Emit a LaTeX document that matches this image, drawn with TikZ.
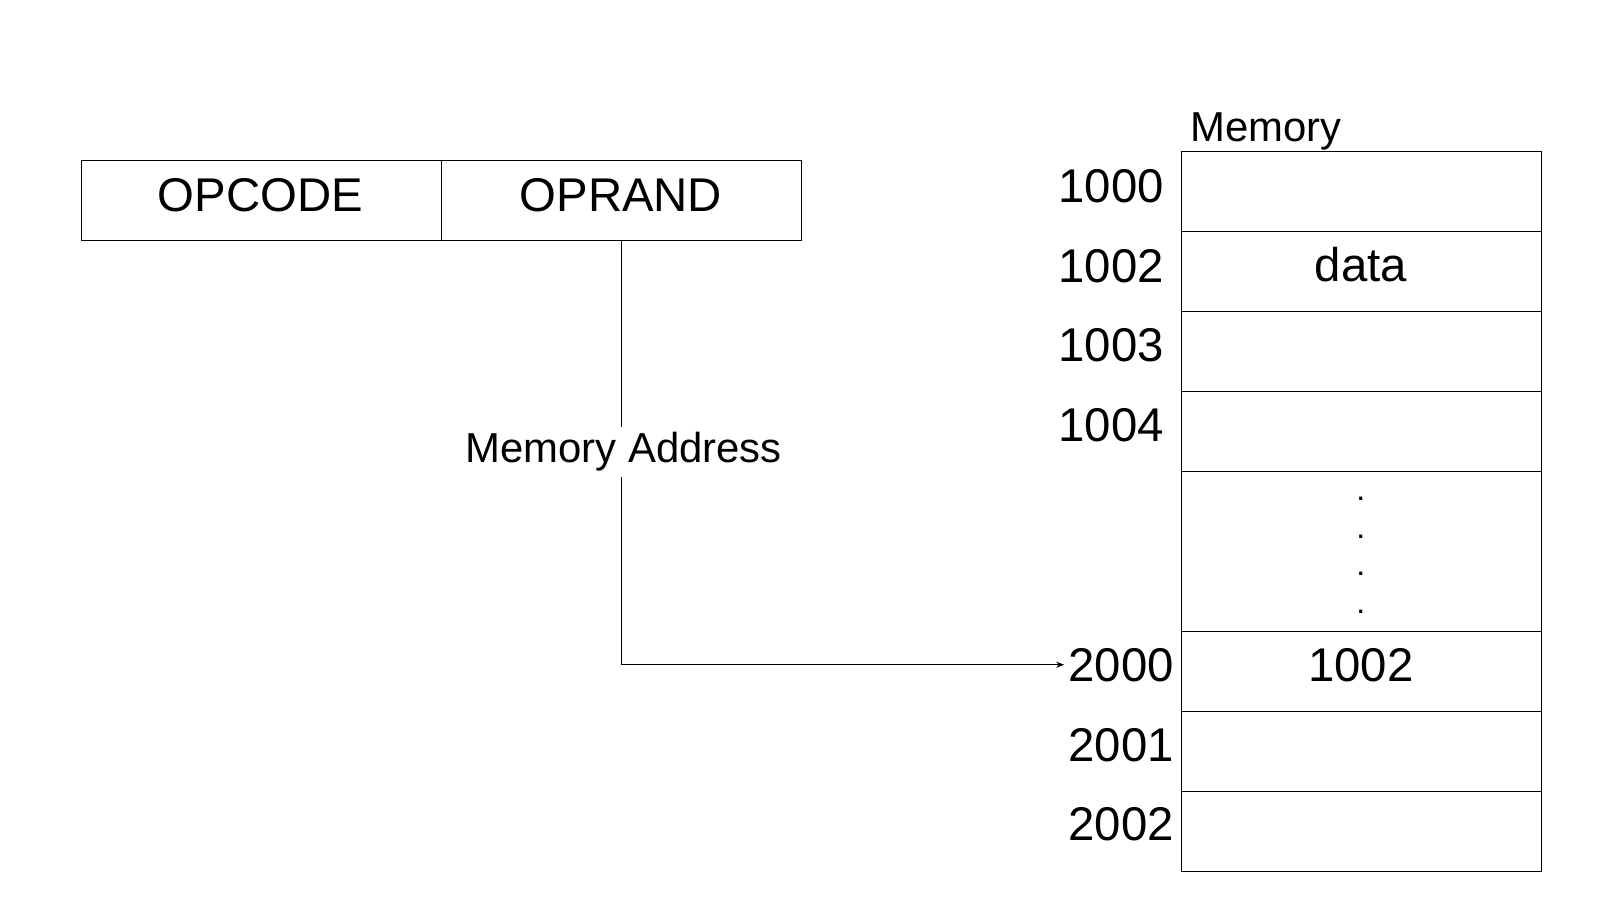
\documentclass[tikz,border=0pt]{standalone}
\usepackage{fontspec}
\setmainfont{Liberation Sans}
\usetikzlibrary{arrows.meta}
\begin{document}
\begin{tikzpicture}[x=0.75pt,y=-0.75pt,
  cell/.style={draw=black, line width=0.9pt, minimum width=270pt, minimum height=60pt, inner sep=0pt, anchor=north west},
  bigtext/.style={font=\fontsize{35.5}{42}\selectfont, inner sep=3pt},
  smalltext/.style={font=\fontsize{31.4}{38}\selectfont, inner sep=3pt},
  dottext/.style={font=\fontsize{24}{28}\selectfont, inner sep=0pt, anchor=base},
  conn/.style={line width=0.75pt, -{Stealth[length=6pt,width=4.5pt]}}]
\useasboundingbox (0,0) rectangle (1600,900);
% instruction
\node[cell] (opcode) at (80.6,160) {};
\node[cell] (oprand) at (440.8,160) {};
\node[bigtext, anchor=base] (topc) at (260.2,211.5) {OPCODE};
\node[bigtext, anchor=base] (topr) at (620.9,211.5) {OPRAND};
% memory
\node[smalltext, anchor=base west] (memt) at (1186,141) {Memory};
\node[cell] (m1) at (1180.6,151) {};
\node[cell] (m2) at (1180.6,231) {};
\node[cell] (m3) at (1180.6,311) {};
\node[cell] (m4) at (1180.6,391) {};
\node[cell, minimum height=120pt] (m5) at (1180.6,471) {};
\node[cell] (m6) at (1180.6,631) {};
\node[cell] (m7) at (1180.6,711) {};
\node[cell] (m8) at (1180.6,791) {};
\node[bigtext, anchor=base east] (a1000) at (1168,202) {1000};
\node[bigtext, anchor=base east] (a1002) at (1168,282) {1002};
\node[bigtext, anchor=base east] (a1003) at (1168,361.5) {1003};
\node[bigtext, anchor=base east] (a1004) at (1168,441.5) {1004};
\node[bigtext, anchor=base east] (a2000) at (1178,681) {2000};
\node[bigtext, anchor=base east] (a2001) at (1178,761) {2001};
\node[bigtext, anchor=base east] (a2002) at (1178,840.5) {2002};
\node[bigtext, anchor=base] (vdata) at (1360.9,281.5) {data};
\node[bigtext, anchor=base] (v1002) at (1360.9,681) {1002};
\node[dottext] (d1) at (1360.9,500.5) {.};
\node[dottext] (d2) at (1360.9,538) {.};
\node[dottext] (d3) at (1360.9,575.5) {.};
\node[dottext] (d4) at (1360.9,613.5) {.};
% connector
\draw[conn] (oprand.south) |- (a2000.west);
\node[smalltext, fill=white, inner sep=4pt] (maddr) at (623.5,452) {Memory Address};
\end{tikzpicture}
\end{document}
